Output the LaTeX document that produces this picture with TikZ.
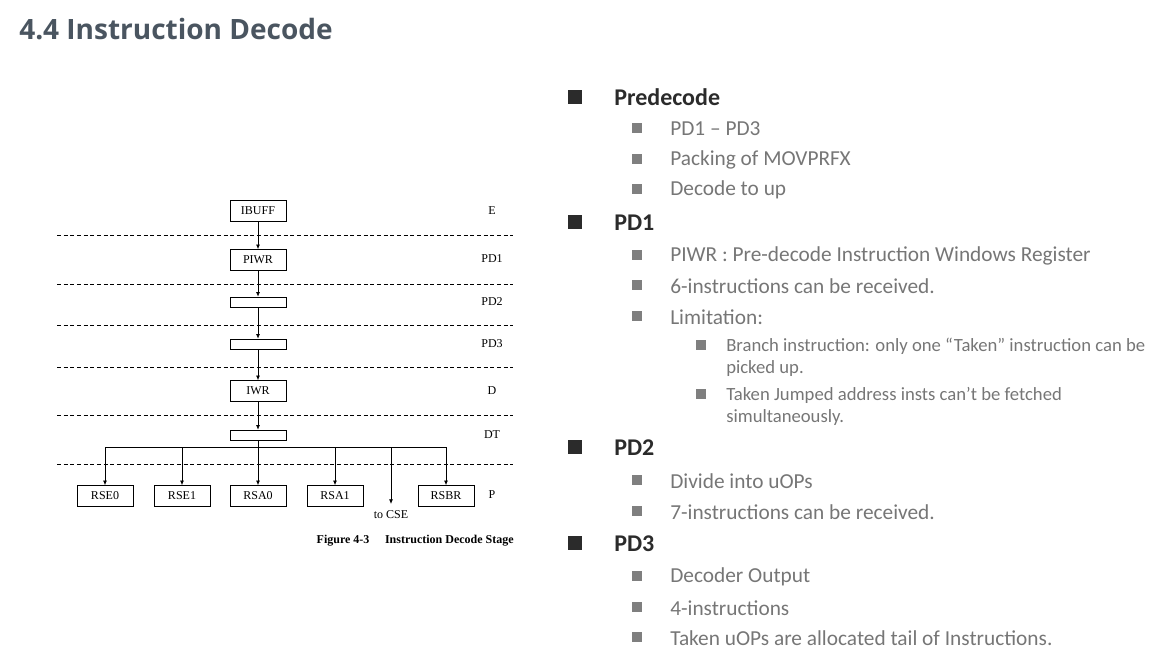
\documentclass[tikz,border=0pt]{standalone}
\usepackage{fontspec}
\setmainfont{Liberation Serif}
\newfontfamily\slidefont{Carlito}
\newfontfamily\titlefont{Open Sans}
\usetikzlibrary{positioning,arrows.meta}
\definecolor{titlegray}{HTML}{4A5560}
\definecolor{headdark}{HTML}{2B2B2B}
\definecolor{subgray}{HTML}{7F7F7F}
\definecolor{textgray}{HTML}{767676}
\tikzset{unit/.style={draw,fill=white,minimum width=42pt,minimum height=15.75pt,inner sep=0pt,font=\fontsize{9}{10}\selectfont}}
\tikzset{slim/.style={unit,minimum height=7.5pt}}
\tikzset{stage/.style={font=\fontsize{9}{10}\selectfont}}
\tikzset{stageline/.style={draw,line width=0.5pt,dash pattern=on 3pt off 2pt}}
\tikzset{flow/.style={draw,line width=0.6pt,-{Latex[length=3.5pt,width=3pt]}}}
\tikzset{headmark/.style={fill=headdark,minimum size=10pt,inner sep=0pt}}
\tikzset{submark/.style={fill=subgray,minimum size=7.5pt,inner sep=0pt}}
\tikzset{head/.style={anchor=west,inner sep=0pt,text=headdark,font=\slidefont\bfseries\fontsize{18}{21}\selectfont}}
\tikzset{item/.style={anchor=west,inner sep=0pt,text=textgray,font=\slidefont\fontsize{16}{18}\selectfont}}
\tikzset{subitem/.style={anchor=north west,inner sep=0pt,align=left,text=textgray,font=\slidefont\fontsize{14}{16.5}\selectfont}}
\begin{document}
\begin{tikzpicture}[x=0.75pt,y=-0.75pt]
    \useasboundingbox (0,0) rectangle (1163,664);

    \node[anchor=west,inner sep=0pt,text=titlegray,font=\titlefont\bfseries\fontsize{21}{25}\selectfont] (title) at (19,29) {4.4 Instruction Decode};

    % pipeline stages
    \foreach \y in {235,284,325,367,415,464}
        \draw[stageline] (57,\y) -- (513,\y);

    \node[unit] (ibuff) at (258,211) {IBUFF};
    \node[unit] (piwr) at (258,260) {PIWR};
    \node[slim] (pdtwo) at (258,302) {};
    \node[slim] (pdthree) at (258,344) {};
    \node[unit] (iwr) at (258,391) {IWR};
    \node[slim] (dt) at (258,435) {};

    \node[unit] (rsezero) at (105,496) {RSE0};
    \node[unit] (rseone) at (182,496) {RSE1};
    \node[unit] (rsazero) at (258,496) {RSA0};
    \node[unit] (rsaone) at (335,496) {RSA1};
    \node[unit] (rsbr) at (446,496) {RSBR};
    \coordinate (cse) at (391,504);
    \node[stage] (tocse) at (391,515) {to CSE};

    \node[stage] (se) at (492,211) {E};
    \node[stage] (spdone) at (492,259) {PD1};
    \node[stage] (spdtwo) at (492,302) {PD2};
    \node[stage] (spdthree) at (492,344) {PD3};
    \node[stage] (sd) at (492,391) {D};
    \node[stage] (sdt) at (492,435) {DT};
    \node[stage] (sp) at (492,495) {P};

    \node[anchor=east,inner sep=0pt,font=\bfseries\fontsize{9}{10}\selectfont] (caption) at (514,541) {Figure 4-3\hspace{1.3em}Instruction Decode Stage};

    \path[flow] (ibuff) -- (piwr);
    \path[flow] (piwr) -- (pdtwo);
    \path[flow] (pdtwo) -- (pdthree);
    \path[flow] (pdthree) -- (iwr);
    \path[flow] (iwr) -- (dt);
    \coordinate (bus) at (258,447);
    \draw[line width=0.6pt] (dt) -- (bus);
    \foreach \n in {rsezero,rseone,rsazero,rsaone,cse,rsbr}
        \path[flow] (bus) -| (\n.north);

    % slide text
    \node[headmark] (mpre) at (575,97) {};
    \node[head] (tpre) at (614,97) {Predecode};
    \node[submark] (ma) at (637,128) {};
    \node[item] (ta) at (670,129) {PD1 – PD3};
    \node[submark] (mb) at (637,159) {};
    \node[item] (tb) at (670,160) {Packing of MOVPRFX};
    \node[submark] (mc) at (637,189) {};
    \node[item] (tc) at (670,190) {Decode to up};

    \node[headmark] (mpdone) at (575,222) {};
    \node[head] (tpdone) at (614,223) {PD1};
    \node[submark] (md) at (637,255) {};
    \node[item] (td) at (670,256) {PIWR : Pre-decode Instruction Windows Register};
    \node[submark] (me) at (637,285) {};
    \node[item] (te) at (670,286) {6-instructions can be received.};
    \node[submark] (mf) at (637,316) {};
    \node[item] (tf) at (670,317) {Limitation:};
    \node[submark] (mg) at (701,345) {};
    \node[subitem] (tg) at (726,338) {Branch instruction: only one “Taken” instruction can be\\picked up.};
    \node[submark] (mh) at (701,394) {};
    \node[subitem] (th) at (726,387) {Taken Jumped address insts can’t be fetched\\simultaneously.};

    \node[headmark] (mpdtwo) at (575,447) {};
    \node[head] (tpdtwo) at (614,448) {PD2};
    \node[submark] (mi) at (637,480) {};
    \node[item] (ti) at (670,481) {Divide into uOPs};
    \node[submark] (mj) at (637,511) {};
    \node[item] (tj) at (670,512) {7-instructions can be received.};

    \node[headmark] (mpdthree) at (575,543) {};
    \node[head] (tpdthree) at (614,544) {PD3};
    \node[submark] (mk) at (637,576) {};
    \node[item] (tk) at (670,577) {Decoder Output};
    \node[submark] (ml) at (637,607) {};
    \node[item] (tl) at (670,608) {4-instructions};
    \node[submark] (mm) at (637,637) {};
    \node[item] (tm) at (670,638) {Taken uOPs are allocated tail of Instructions.};
\end{tikzpicture}
\end{document}
